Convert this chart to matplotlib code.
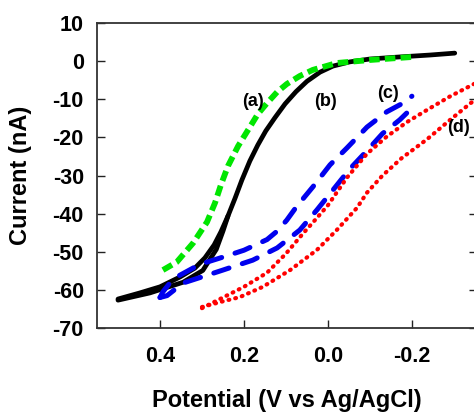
import matplotlib
matplotlib.use("Agg")
import matplotlib.pyplot as plt

plt.rcParams['font.family'] = ['Liberation Sans', 'DejaVu Sans']
plt.rcParams['font.weight'] = 'bold'
plt.rcParams['axes.unicode_minus'] = False

# (a) green dashed
a_x = [0.393, 0.36, 0.321, 0.288, 0.269, 0.255, 0.238, 0.214, 0.186, 0.167, 0.145, 0.121, 0.098, 0.067, 0.036, -0.021, -0.1, -0.202]
a_y = [-54.8, -52.7, -47.7, -42.2, -37.2, -32.5, -27.5, -22.3, -17.3, -13.9, -11.0, -8.1, -6.0, -3.9, -2.3, -0.5, 0.3, 1.1]

# (b) black solid, two sweeps
b1_x = [0.5, 0.448, 0.4, 0.352, 0.317, 0.293, 0.271, 0.255, 0.238, 0.221, 0.205, 0.186, 0.167, 0.148, 0.126, 0.102, 0.076, 0.05, 0.019, -0.012, -0.052, -0.1, -0.171, -0.243, -0.302]
b1_y = [-62.4, -60.8, -59.2, -56.6, -54.3, -51.6, -48.2, -44.8, -40.6, -35.9, -31.2, -26.2, -22.0, -18.3, -14.8, -11.2, -8.0, -5.3, -2.9, -1.3, -0.2, 0.56, 1.1, 1.6, 2.1]
b2_x = [0.5, 0.424, 0.345, 0.298, 0.266, 0.25, 0.238]
b2_y = [-62.7, -60.8, -58.0, -54.9, -49.4, -44.6, -40.6]

# (c) blue dashed, two sweeps
c1_x = [0.4, 0.393, 0.375, 0.36, 0.33, 0.305, 0.25, 0.2, 0.145, 0.12, 0.098, 0.075, 0.036, -0.005, -0.045, -0.093, -0.14, -0.179, -0.2]
c1_y = [-62.0, -60.5, -58.0, -56.6, -54.8, -53.3, -51.4, -49.6, -46.8, -44.5, -41.7, -38.2, -33.0, -27.2, -22.8, -17.3, -13.3, -11.0, -9.2]
c2_x = [0.4, 0.383, 0.345, 0.3, 0.25, 0.179, 0.121, 0.067, 0.026, -0.012, -0.052, -0.093, -0.13, -0.171, -0.2]
c2_y = [-62.0, -61.5, -58.2, -56.6, -54.8, -52.2, -49.0, -44.3, -39.0, -33.8, -28.3, -23.5, -19.0, -15.4, -12.3]

# (d) red dotted, two sweeps
d1_x = [0.3, 0.25, 0.2, 0.145, 0.1, 0.06, 0.026, 0.0, -0.045, -0.093, -0.14, -0.188, -0.236, -0.29, -0.36]
d1_y = [-64.8, -62.0, -59.2, -55.5, -50.5, -45.3, -41.1, -37.8, -30.6, -24.3, -19.8, -16.0, -12.8, -9.3, -5.3]
d2_x = [0.3, 0.25, 0.21, 0.155, 0.09, 0.026, -0.021, -0.069, -0.093, -0.13, -0.175, -0.236, -0.29, -0.34, -0.36]
d2_y = [-64.5, -63.0, -61.9, -59.2, -54.8, -49.5, -44.3, -38.5, -34.5, -30.0, -25.5, -20.5, -15.5, -11.0, -9.5]

y_ticks = [-70, -60, -50, -40, -30, -20, -10, 0, 10]
x_ticks = [0.4, 0.2, 0.0, -0.2]
x_labels = ["0.4", "0.2", "0.0", "-0.2"]

fig = plt.figure(figsize=(4.74, 4.12), dpi=100)
ax = fig.add_axes([97/474, 84/412, 380/474, 305/412])

ax.plot(b1_x, b1_y, color='black', lw=3.4, solid_capstyle='round', solid_joinstyle='round')
ax.plot(b2_x, b2_y, color='black', lw=3.4, solid_capstyle='round', solid_joinstyle='round')
ax.plot(a_x, a_y, color='#00e600', lw=4.2, ls=(0, (1.8, 0.9)))
ax.plot(c1_x, c1_y, color='#0000ee', lw=3.6, ls=(0, (3.2, 2.8)), dash_capstyle='round')
ax.plot(c2_x, c2_y, color='#0000ee', lw=3.6, ls=(0, (3.2, 2.8)), dash_capstyle='round')
ax.plot(d1_x, d1_y, color='#ff0000', lw=3.0, ls=(0, (0.2, 1.45)), dash_capstyle='round')
ax.plot(d2_x, d2_y, color='#ff0000', lw=3.0, ls=(0, (0.2, 1.45)), dash_capstyle='round')

ax.text(0.179, -10.7, "(a)", fontsize=13, fontweight='bold', ha='center', va='center')
ax.text(0.007, -10.7, "(b)", fontsize=13, fontweight='bold', ha='center', va='center')
ax.text(-0.143, -8.4, "(c)", fontsize=13, fontweight='bold', ha='center', va='center')
ax.text(-0.31, -17.5, "(d)", fontsize=13, fontweight='bold', ha='center', va='center')

ax.set_xlim(0.55, -0.355)
ax.set_ylim(-70, 10)
ax.set_xticks(x_ticks)
ax.set_xticklabels(x_labels)
ax.set_yticks(y_ticks)
ax.set_yticklabels([str(v) for v in y_ticks])

ax.tick_params(axis='both', direction='in', length=5.5, width=1.0, labelsize=15.5, colors='#222222')
ax.tick_params(axis='y', right=True, pad=9.5)
ax.tick_params(axis='x', pad=13)
for lab in ax.get_xticklabels() + ax.get_yticklabels():
    lab.set_fontweight('bold')
    lab.set_color('black')
for s in ax.spines.values():
    s.set_linewidth(1.3)
    s.set_color('#333333')

ax.set_xlabel("Potential (V vs Ag/AgCl)", fontsize=17, fontweight='bold')
ax.set_ylabel("Current (nA)", fontsize=17, fontweight='bold')
ax.xaxis.set_label_coords(0.5, -0.2)
ax.yaxis.set_label_coords(-0.171, 0.5)

fig.savefig("out.png", dpi=100)
